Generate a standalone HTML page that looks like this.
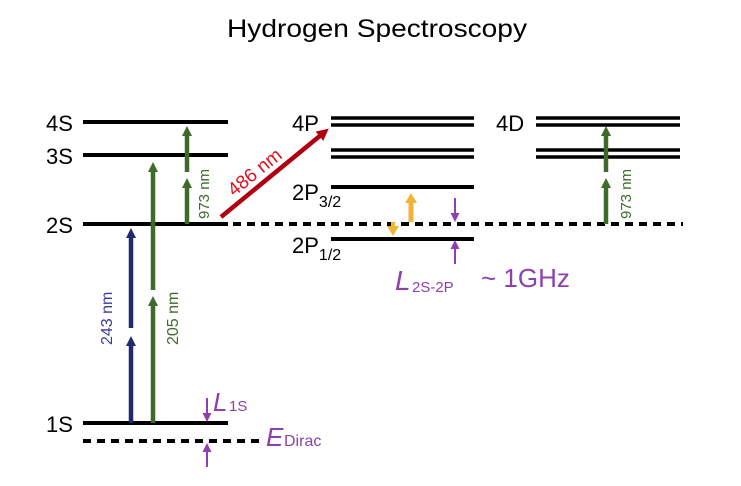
<!DOCTYPE html>
<html><head><meta charset="utf-8"><style>html,body{margin:0;padding:0;background:#fff}svg{display:block}text{font-family:"Liberation Sans",sans-serif}</style></head>
<body>
<svg width="741" height="486" viewBox="0 0 741 486" xmlns="http://www.w3.org/2000/svg">
<defs>
<marker id="hb" markerWidth="10" markerHeight="10" refX="2" refY="5" orient="auto" markerUnits="userSpaceOnUse"><path d="M0,0 L10,5 L0,10 z" fill="#1f2a6b"/></marker>
<marker id="hg" markerWidth="10" markerHeight="10" refX="2" refY="5" orient="auto" markerUnits="userSpaceOnUse"><path d="M0,0 L10,5 L0,10 z" fill="#3e6b2a"/></marker>
<marker id="hr" markerWidth="12" markerHeight="12" refX="2" refY="6" orient="auto" markerUnits="userSpaceOnUse"><path d="M0,0 L12,6 L0,12 z" fill="#b00010"/></marker>
<marker id="hy" markerWidth="12" markerHeight="12" refX="2" refY="6" orient="auto" markerUnits="userSpaceOnUse"><path d="M0,0 L10,6 L0,12 z" fill="#f2b33a"/></marker>
<marker id="hp" markerWidth="9" markerHeight="9" refX="7" refY="4.5" orient="auto" markerUnits="userSpaceOnUse"><path d="M0,0 L9,4.5 L0,9 z" fill="#8e3fb0"/></marker>
</defs>
<text x="377" y="37" font-size="25" text-anchor="middle" textLength="300" lengthAdjust="spacingAndGlyphs">Hydrogen Spectroscopy</text>

<g stroke="#000" stroke-width="4">
<line x1="83" y1="122" x2="228" y2="122"/>
<line x1="83" y1="155" x2="228" y2="155"/>
<line x1="83" y1="224" x2="228" y2="224"/>
<line x1="83" y1="423" x2="228" y2="423"/>
<line x1="233" y1="224" x2="683" y2="224" stroke-dasharray="8,6"/>
<line x1="83" y1="441" x2="262" y2="441" stroke-dasharray="8,6"/>
<g stroke-width="3.5">
<line x1="331" y1="118" x2="474" y2="118"/><line x1="331" y1="125" x2="474" y2="125"/>
<line x1="331" y1="150" x2="474" y2="150"/><line x1="331" y1="157" x2="474" y2="157"/>
<line x1="536" y1="118" x2="680" y2="118"/><line x1="536" y1="125" x2="680" y2="125"/>
<line x1="536" y1="150" x2="680" y2="150"/><line x1="536" y1="157" x2="680" y2="157"/>
</g>
<line x1="331" y1="187" x2="474" y2="187"/>
<line x1="331" y1="239" x2="474" y2="239"/>
</g>

<g font-size="22" fill="#000">
<text x="46" y="131">4S</text>
<text x="46" y="164">3S</text>
<text x="46" y="233">2S</text>
<text x="46" y="432">1S</text>
<text x="292" y="131">4P</text>
<text x="496" y="131">4D</text>
<text x="292" y="200">2P<tspan font-size="16" dy="7">3/2</tspan></text>
<text x="292" y="253">2P<tspan font-size="16" dy="7">1/2</tspan></text>
</g>

<g stroke="#1f2a6b" stroke-width="4.5">
<line x1="131" y1="423" x2="131" y2="344" marker-end="url(#hb)"/>
<line x1="131" y1="328" x2="131" y2="236" marker-end="url(#hb)"/>
</g>
<g stroke="#3e6b2a" stroke-width="4.5">
<line x1="153" y1="423" x2="153" y2="304" marker-end="url(#hg)"/>
<line x1="153" y1="290" x2="153" y2="170" marker-end="url(#hg)"/>
<line x1="187" y1="224" x2="187" y2="186" marker-end="url(#hg)"/>
<line x1="187" y1="172" x2="187" y2="134" marker-end="url(#hg)"/>
<line x1="606" y1="224" x2="606" y2="186" marker-end="url(#hg)"/>
<line x1="606" y1="172" x2="606" y2="134" marker-end="url(#hg)"/>
</g>
<line x1="221" y1="217" x2="321" y2="135" stroke="#b00010" stroke-width="4.5" marker-end="url(#hr)"/>
<line x1="411" y1="222" x2="411" y2="201" stroke="#f2b33a" stroke-width="5" marker-end="url(#hy)"/>
<line x1="393" y1="222" x2="393" y2="228" stroke="#f2b33a" stroke-width="4" marker-end="url(#hy)"/>

<g stroke="#8e3fb0" stroke-width="2">
<line x1="455" y1="198" x2="455" y2="220" marker-end="url(#hp)"/>
<line x1="455" y1="264" x2="455" y2="242" marker-end="url(#hp)"/>
<line x1="207" y1="398" x2="207" y2="420" marker-end="url(#hp)"/>
<line x1="207" y1="467" x2="207" y2="445" marker-end="url(#hp)"/>
</g>

<g font-size="16">
<text transform="translate(112,345) rotate(-90)" fill="#3a3d9a">243 nm</text>
<text transform="translate(178,345) rotate(-90)" fill="#3e6b2a">205 nm</text>
<text transform="translate(209,219) rotate(-90)" fill="#3e6b2a" font-size="15">973 nm</text>
<text transform="translate(631,219) rotate(-90)" fill="#3e6b2a" font-size="15">973 nm</text>
<text transform="translate(234,197) rotate(-39)" fill="#e0101e" font-size="19">486 nm</text>
</g>

<g fill="#8e3fb0">
<text x="213" y="411" font-size="26" font-style="italic" font-family="Liberation Serif,serif">L</text>
<text x="229" y="411" font-size="15">1S</text>
<text x="266" y="446" font-size="26" font-style="italic" font-family="Liberation Serif,serif">E</text>
<text x="284" y="446" font-size="16">Dirac</text>
<text x="395" y="290" font-size="28" font-style="italic" font-family="Liberation Serif,serif">L</text>
<text x="412" y="292" font-size="15">2S-2P</text>
<text x="481" y="287" font-size="26">~ 1GHz</text>
</g>
</svg>
</body></html>
